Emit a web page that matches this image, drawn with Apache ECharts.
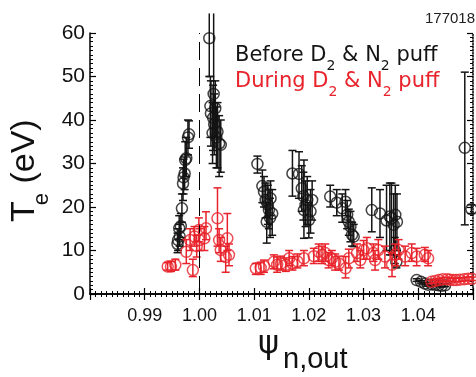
<!DOCTYPE html>
<html><head><meta charset="utf-8">
<script src="https://cdn.jsdelivr.net/npm/echarts@6/dist/echarts.min.js"></script>
<style>html,body{margin:0;padding:0;background:#fff}#c{width:476px;height:377px}</style>
</head><body><div id="c"></div>
<script>
// ---------------- data ----------------
const xTickLabels = ['0.99', '1.00', '1.01', '1.02', '1.03', '1.04'];
const yTickLabels = ['0', '10', '20', '30', '40', '50', '60'];
const separatrixPsi = 1.00;
const shotNumber = '177018';

// Before D2 & N2 puff (black)
const beforePsi = [
  0.9960, 0.9961, 0.9963, 0.9964, 0.9966, 0.9968, 0.9970, 0.9971, 0.9973, 0.9974, 0.9976, 0.9979, 0.9981,
  1.0018, 1.0020, 1.0021, 1.0026, 1.0024, 1.0025, 1.0027, 1.0029, 1.0031, 1.0033, 1.0036, 1.0039,
  1.0106, 1.0115, 1.0118, 1.0121, 1.0123, 1.0125, 1.0127, 1.0129, 1.0130, 1.0133,
  1.0170, 1.0182, 1.0187, 1.0190, 1.0191, 1.0194, 1.0197, 1.0200, 1.0203, 1.0206,
  1.0239, 1.0251, 1.0261, 1.0267, 1.0270, 1.0273, 1.0276, 1.0279, 1.0282,
  1.0315, 1.0330, 1.0342, 1.0348, 1.0351, 1.0355, 1.0358, 1.0361, 1.0357, 1.0360,
  1.0397, 1.0405, 1.0412, 1.0418, 1.0425, 1.0431, 1.0437, 1.0443, 1.0449,
  1.0485, 1.0497
];
const beforeTe = [
  11.5, 12.4, 15.1, 13.2, 15.6, 19.7, 25.4, 26.8, 27.7, 30.8, 31.2, 36.0, 36.7,
  58.8, 43.2, 41.5, 46.0, 37.0, 40.5, 39.0, 42.7, 36.0, 37.3, 34.6, 34.3,
  29.9, 24.8, 23.5, 21.6, 16.6, 20.5, 19.3, 17.5, 22.0, 18.5,
  27.7, 27.6, 24.3, 22.5, 19.3, 20.5, 21.6, 17.0, 19.0, 21.6,
  22.4, 21.0, 19.7, 21.2, 18.2, 16.6, 15.5, 13.6, 13.2,
  19.3, 18.5, 16.9, 17.8, 17.4, 15.9, 18.2, 16.6, 10.0, 7.4,
  3.2, 2.8, 2.4, 2.1, 2.2, 2.1, 2.0, 1.9, 2.0,
  33.6, 19.5
];
const beforeLo = [
  9.5, 10.0, 12.5, 11.0, 13.0, 16.5, 21.5, 23.0, 24.0, 27.0, 27.0, 32.0, 33.5,
  50.0, 36.0, 34.0, 38.0, 30.0, 33.0, 32.0, 36.0, 29.0, 29.0, 27.0, 28.0,
  27.8, 21.0, 20.0, 17.5, 11.7, 16.0, 15.0, 13.0, 18.0, 13.5,
  22.5, 22.0, 19.0, 17.0, 12.8, 15.5, 16.0, 12.9, 14.0, 17.0,
  20.0, 18.0, 16.5, 18.0, 15.0, 13.5, 12.0, 11.0, 10.9,
  14.3, 13.0, 10.0, 9.0, 9.0, 9.0, 10.0, 10.0, 7.0, 6.0,
  2.9, 2.5, 2.1, 1.8, 1.9, 1.8, 1.7, 1.6, 1.7,
  15.9, 18.5
];
const beforeHi = [
  14.0, 15.0, 18.0, 16.0, 18.5, 23.0, 29.0, 31.0, 31.5, 35.0, 36.0, 40.0, 39.8,
  64.5, 50.0, 49.0, 64.5, 44.0, 48.0, 46.0, 49.0, 43.0, 44.0, 41.0, 40.0,
  31.7, 28.5, 27.0, 25.5, 21.0, 25.0, 24.0, 22.0, 26.0, 24.0,
  33.0, 32.7, 29.5, 28.0, 30.8, 26.0, 27.0, 21.0, 24.0, 26.0,
  25.0, 24.0, 23.0, 24.0, 21.5, 19.5, 19.0, 16.5, 16.0,
  24.4, 24.0, 25.0, 25.5, 25.5, 23.0, 25.0, 23.0, 13.0, 9.0,
  3.5, 3.1, 2.7, 2.4, 2.5, 2.4, 2.3, 2.2, 2.3,
  51.0, 20.5
];

// During D2 & N2 puff (red)
const duringPsi = [
  0.9942, 0.9948, 0.9956, 0.9976, 0.9983, 0.9988, 0.9991, 0.9995, 0.9999, 1.0000, 1.0009, 1.0012, 1.0033, 1.0036, 1.0039, 1.0048, 1.0051, 1.0054,
  1.0103, 1.0112, 1.0118, 1.0136, 1.0142, 1.0149, 1.0158, 1.0164, 1.0170, 1.0179, 1.0191, 1.0209, 1.0218, 1.0224, 1.0230, 1.0236, 1.0242, 1.0248,
  1.0255, 1.0267, 1.0273, 1.0288, 1.0294, 1.0300, 1.0306, 1.0318, 1.0321, 1.0327, 1.0339, 1.0352, 1.0358, 1.0364, 1.0376, 1.0388, 1.0397, 1.0412, 1.0418,
  1.0424, 1.0431, 1.0438, 1.0445, 1.0453, 1.0458, 1.0464, 1.0469, 1.0476, 1.0484, 1.0491, 1.0498
];
const duringTe = [
  6.3, 6.3, 6.7, 9.7, 12.4, 5.5, 13.2, 11.0, 14.7, 12.4, 12.8, 15.1, 17.4, 12.4, 10.1, 8.5, 12.8, 9.0,
  5.9, 6.0, 6.4, 7.4, 6.7, 7.0, 6.7, 8.2, 7.0, 7.5, 8.2, 8.7, 9.7, 9.0, 9.4, 7.8, 8.2, 7.4,
  7.0, 5.9, 8.2, 9.4, 7.8, 10.1, 10.5, 9.4, 7.8, 10.1, 8.6, 6.7, 9.0, 10.1, 8.6, 9.4, 8.6, 9.0, 8.2,
  2.8, 3.0, 3.2, 3.4, 3.4, 3.3, 3.2, 3.2, 3.3, 3.4, 3.5, 3.5
];
const duringLo = [
  5.5, 5.2, 5.5, 7.0, 10.0, 4.0, 11.0, 8.5, 12.0, 10.0, 10.0, 12.5, 11.0, 9.5, 7.5, 5.0, 10.0, 6.5,
  4.5, 4.5, 5.0, 5.8, 5.0, 5.5, 5.2, 6.5, 5.5, 6.0, 6.5, 7.0, 7.5, 7.0, 7.5, 6.0, 6.5, 5.5,
  5.5, 3.7, 6.0, 7.5, 6.0, 8.0, 8.0, 7.5, 5.5, 8.0, 6.0, 4.0, 6.5, 8.0, 6.5, 7.5, 6.5, 7.5, 6.5,
  2.4, 2.6, 2.8, 3.0, 3.0, 2.9, 2.8, 2.8, 2.9, 3.0, 3.1, 3.1
];
const duringHi = [
  7.2, 7.5, 8.0, 12.5, 15.0, 8.0, 15.5, 13.5, 17.5, 15.0, 15.5, 18.9, 24.4, 15.0, 13.0, 11.0, 18.5, 11.5,
  7.0, 7.3, 7.8, 9.0, 8.5, 8.7, 8.3, 10.0, 8.6, 9.2, 10.0, 10.5, 11.5, 11.0, 11.5, 9.5, 10.0, 9.2,
  8.7, 8.6, 10.3, 11.5, 10.0, 12.3, 13.0, 11.5, 10.0, 12.5, 11.0, 9.5, 11.5, 12.5, 11.0, 11.5, 10.5, 10.7, 10.0,
  3.2, 3.4, 3.6, 3.8, 3.8, 3.7, 3.6, 3.6, 3.7, 3.8, 3.9, 3.9
];

// ---------------- drawing ----------------
const BLACK = '#141414';
const RED = '#e8232b';
const chart = echarts.init(document.getElementById('c'), null, {renderer: 'canvas'});

const mctx = document.createElement('canvas').getContext('2d');
function tw(t, font) { mctx.font = font; return mctx.measureText(t).width; }
// parts: {t, s (font size), fam, c, b (baseline offset), dx}
function textRow(parts, x0, y0, rot) {
  let x = 0; const children = [];
  parts.forEach(p => {
    const font = p.s + 'px ' + p.fam;
    x += (p.dx || 0);
    const px = (p.x !== undefined) ? p.x : x;
    children.push({
      type: 'text', x: px, y: (p.b || 0) - 0.35 * p.s,
      style: {text: p.t, font: font, fill: p.c, textAlign: 'left', textVerticalAlign: 'middle', align: 'left', verticalAlign: 'middle'}
    });
    x = px + tw(p.t, font);
  });
  return {type: 'group', x: x0, y: y0, rotation: rot || 0, children: children, silent: true};
}

function errRender(color) {
  return function (params, api) {
    const x = api.value(0), lo = api.value(1), hi = api.value(2);
    const a = api.coord([x, lo]), b = api.coord([x, hi]);
    const w = 4; const st = {stroke: color, lineWidth: 1.5};
    const ch = [{type: 'line', shape: {x1: a[0], y1: a[1], x2: b[0], y2: b[1]}, style: st},
                {type: 'line', shape: {x1: a[0] - w, y1: a[1], x2: a[0] + w, y2: a[1]}, style: st}];
    if (hi <= 60) ch.push({type: 'line', shape: {x1: b[0] - w, y1: b[1], x2: b[0] + w, y2: b[1]}, style: st});
    return {type: 'group', children: ch};
  };
}

const SANS = '"Liberation Sans", Arial, sans-serif';
const LEG = '"DejaVu Sans", sans-serif';

const axisCommon = {
  axisLine: {show: true, lineStyle: {color: '#000', width: 1.5}},
  axisTick: {show: true, inside: true, length: 6, lineStyle: {color: '#000', width: 1.2}},
  minorTick: {show: true, splitNumber: 10, length: 3, lineStyle: {color: '#000', width: 1}},
  splitLine: {show: false}, minorSplitLine: {show: false}
};

const option = {
  animation: false,
  backgroundColor: '#fff',
  grid: {left: 90, top: 33, width: 385, height: 261, containLabel: false},
  xAxis: [
    Object.assign({type: 'value', min: 0.98, max: 1.05, interval: 0.01, position: 'bottom',
      axisLabel: {show: true, fontSize: 18, color: '#111', fontFamily: SANS, margin: 13,
        formatter: v => { const s = v.toFixed(2); return xTickLabels.indexOf(s) >= 0 ? s : ''; }}}, axisCommon),
    Object.assign({type: 'value', min: 0.98, max: 1.05, interval: 0.01, position: 'top', axisLabel: {show: false}}, axisCommon)
  ],
  yAxis: [
    Object.assign({type: 'value', min: 0, max: 60, interval: 10, position: 'left',
      axisLabel: {show: true, fontSize: 21, color: '#111', fontFamily: SANS, margin: 5,
        formatter: v => { const s = String(Math.round(v)); return yTickLabels.indexOf(s) >= 0 ? s : ''; }}}, axisCommon),
    Object.assign({}, axisCommon, {type: 'value', min: 0, max: 60, interval: 10, position: 'right', axisLabel: {show: false},
      axisLine: {show: true, lineStyle: {color: '#000', width: 1.5, type: 'dotted'}}})
  ],
  series: [
    {type: 'custom', name: 'beforeErr', clip: false, renderItem: errRender(BLACK), z: 2,
      encode: {x: 0, y: [1, 2]}, data: beforePsi.map((p, i) => [p, beforeLo[i], beforeHi[i]]),
      markLine: {silent: true, symbol: ['none', 'none'], label: {show: false},
        lineStyle: {color: '#000', width: 1, type: [18, 8]}, data: [{xAxis: separatrixPsi}]}},
    {type: 'scatter', name: 'before', clip: false, symbol: 'circle', symbolSize: 11, z: 3,
      itemStyle: {color: 'rgba(0,0,0,0)', borderColor: BLACK, borderWidth: 1.5},
      data: beforePsi.map((p, i) => [p, beforeTe[i]])},
    {type: 'custom', name: 'duringErr', clip: false, renderItem: errRender(RED), z: 4,
      encode: {x: 0, y: [1, 2]}, data: duringPsi.map((p, i) => [p, duringLo[i], duringHi[i]])},
    {type: 'scatter', name: 'during', clip: false, symbol: 'circle', symbolSize: 11, z: 5,
      itemStyle: {color: 'rgba(0,0,0,0)', borderColor: RED, borderWidth: 1.5},
      data: duringPsi.map((p, i) => [p, duringTe[i]])}
  ],
  graphic: [
    {type: 'text', x: 475, y: 19, silent: true,
      style: {text: shotNumber, font: '15px ' + SANS, fill: '#222', textAlign: 'right', textVerticalAlign: 'middle', align: 'right', verticalAlign: 'middle'}},
    textRow([
      {t: 'Before D', s: 21, fam: LEG, c: BLACK},
      {t: '2', s: 14, fam: LEG, c: BLACK, b: 8},
      {t: ' & N', s: 21, fam: LEG, c: BLACK},
      {t: '2', s: 14, fam: LEG, c: BLACK, b: 8},
      {t: ' puff', s: 21, fam: LEG, c: BLACK}
    ], 235, 63),
    textRow([
      {t: 'During D', s: 21, fam: LEG, c: RED},
      {t: '2', s: 14, fam: LEG, c: RED, b: 8},
      {t: ' & N', s: 21, fam: LEG, c: RED},
      {t: '2', s: 14, fam: LEG, c: RED, b: 8},
      {t: ' puff', s: 21, fam: LEG, c: RED}
    ], 235, 89),
    textRow([
      {t: 'T', s: 34, fam: SANS, c: '#111'},
      {t: 'e', s: 22, fam: SANS, c: '#111', b: 13, dx: -4},
      {t: ' (eV)', s: 34, fam: SANS, c: '#111'}
    ], 37, 222, Math.PI / 2),
    textRow([
      {t: 'ψ', s: 32, fam: '"DejaVu Sans", sans-serif', c: '#111', x: 0},
      {t: 'n,out', s: 29, fam: SANS, c: '#111', b: 14, x: 25}
    ], 258, 356)
  ]
};
chart.setOption(option);
</script>
</body></html>
